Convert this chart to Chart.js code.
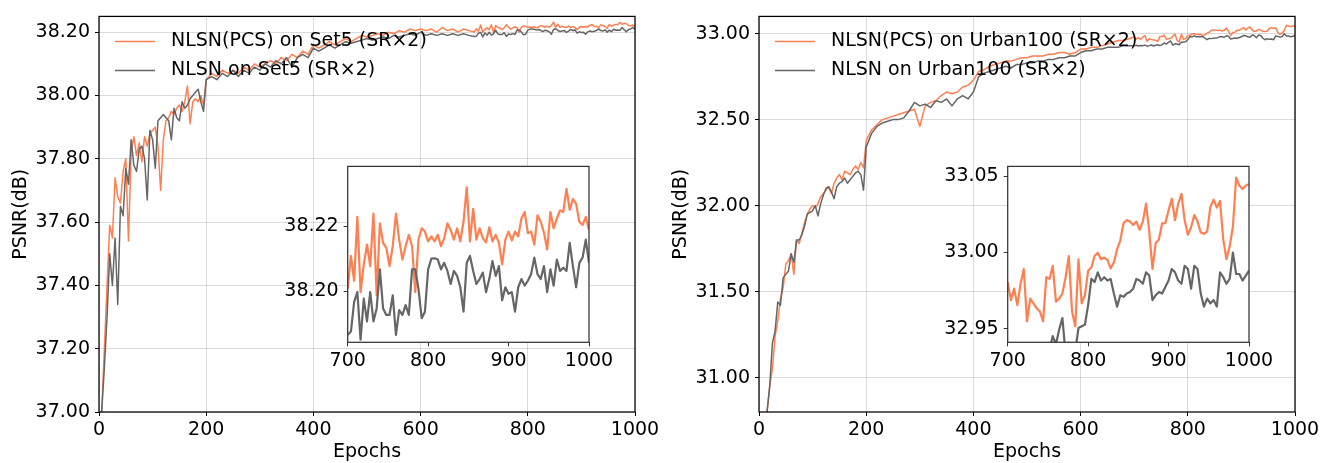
<!DOCTYPE html>
<html>
<head>
<meta charset="utf-8">
<script src="https://cdn.jsdelivr.net/npm/chart.js@4.4.1/dist/chart.umd.min.js"></script>
<style>
  html, body { margin: 0; padding: 0; background: #fff; }
  #wrap { position: relative; width: 1322px; height: 463px; overflow: hidden; }
  canvas { position: absolute; }
</style>
</head>
<body>
<div id="wrap">
  <canvas id="mainSet5" width="670" height="463" style="left:0;top:0"></canvas>
  <canvas id="mainUrban" width="672" height="463" style="left:660px;top:0"></canvas>
  <canvas id="insetSet5" width="350" height="230" style="left:270px;top:150px"></canvas>
  <canvas id="insetUrban" width="350" height="230" style="left:930px;top:150px"></canvas>
</div>
<script>
'use strict';

// ── Datos ─────────────────────────────────────────────────────
const mainEpochs = [0, 5, 10, 15, 20, 25, 30, 35, 40, 45, 50, 55, 60, 65, 70, 75, 80, 85, 90, 95,
    100, 105, 110, 115, 120, 125, 130, 135, 140, 145, 150, 155, 160, 165, 170, 175, 180, 185, 190, 195, 200,
    210, 220, 230, 240, 250, 260, 270, 280, 290, 300, 310, 320, 330, 340, 350, 360, 370, 380, 390,
    400, 410, 420, 430, 440, 450, 460, 470, 480, 490, 500, 510, 520, 530, 540, 550, 560, 570, 580, 590,
    600, 610, 620, 630, 640, 650, 660, 670, 680, 690];

const insetEpochs = [700, 704, 708, 712, 716, 720, 724, 728, 732, 736, 740, 744, 748, 752, 756, 760, 764, 768, 772, 776,
    780, 784, 788, 792, 796, 800, 804, 808, 812, 816, 820, 824, 828, 832, 836, 840, 844, 848, 852, 856,
    860, 864, 868, 872, 876, 880, 884, 888, 892, 896, 900, 904, 908, 912, 916, 920, 924, 928, 932, 936,
    940, 944, 948, 952, 956, 960, 964, 968, 972, 976, 980, 984, 988, 992, 996, 1000];

// Set5 (SR×2) — epochs 0..690
const set5PcsMain = [36.60, 37.00, 37.20, 37.40, 37.59, 37.55, 37.74, 37.68, 37.66, 37.76, 37.80, 37.54, 37.82, 37.87, 37.81,
    37.85, 37.79, 37.87, 37.84, 37.88, 37.89, 37.90, 37.84, 37.70, 37.86, 37.92, 37.93, 37.95, 37.94, 37.96,
    37.97, 37.95, 37.98, 38.03, 37.91, 37.98, 37.99, 37.98, 38.00, 37.97, 38.05,
    38.07, 38.06, 38.08, 38.07, 38.08, 38.07, 38.09, 38.08, 38.10, 38.09, 38.10, 38.11, 38.10, 38.12, 38.11,
    38.13, 38.12, 38.14, 38.13, 38.16, 38.15, 38.16, 38.17, 38.16, 38.17, 38.18, 38.17, 38.18, 38.19, 38.185,
    38.19, 38.195, 38.19, 38.20, 38.195, 38.205, 38.20, 38.21, 38.205, 38.21, 38.205, 38.21, 38.20, 38.215,
    38.205, 38.21, 38.20, 38.21, 38.205];
const set5BaseMain = [36.60, 37.00, 37.14, 37.30, 37.50, 37.40, 37.55, 37.34, 37.65, 37.62, 37.77, 37.72, 37.86, 37.78, 37.76,
    37.83, 37.84, 37.80, 37.67, 37.89, 37.86, 37.77, 37.92, 37.93, 37.94, 37.93, 37.92, 37.86, 37.96, 37.93,
    37.92, 37.98, 37.96, 37.97, 37.99, 38.00, 38.01, 38.02, 37.98, 37.95, 38.05,
    38.06, 38.05, 38.07, 38.06, 38.08, 38.06, 38.08, 38.07, 38.09, 38.08, 38.10, 38.09, 38.11, 38.10, 38.12,
    38.09, 38.12, 38.13, 38.12, 38.15, 38.14, 38.15, 38.16, 38.15, 38.16, 38.17, 38.165, 38.17, 38.175, 38.18,
    38.175, 38.18, 38.185, 38.18, 38.19, 38.185, 38.19, 38.195, 38.19, 38.20, 38.19, 38.195, 38.19, 38.195,
    38.19, 38.195, 38.19, 38.195, 38.19];

// Set5 (SR×2) — epochs 700..1000 (zoom)
const set5PcsInset = [38.2007, 38.2108, 38.2032, 38.2228, 38.1997, 38.2082, 38.2143, 38.2077, 38.2238, 38.1987,
    38.2208, 38.2148, 38.2133, 38.2077, 38.2138, 38.2238, 38.2158, 38.2097, 38.2138, 38.2173,
    38.2138, 38.1997, 38.2158, 38.2193, 38.2183, 38.2153, 38.2168, 38.2153, 38.2173, 38.2138,
    38.2163, 38.2208, 38.2188, 38.2158, 38.2193, 38.2153, 38.2213, 38.2319, 38.2153, 38.2253,
    38.2158, 38.2193, 38.2163, 38.2150, 38.2196, 38.2153, 38.2173, 38.2148, 38.2082, 38.2158,
    38.2183, 38.2156, 38.2183, 38.2168, 38.2223, 38.2243, 38.2178, 38.2183, 38.2143, 38.2233,
    38.2213, 38.2180, 38.2128, 38.2243, 38.2193, 38.2223, 38.2248, 38.2243, 38.2314, 38.2250,
    38.2283, 38.2268, 38.2213, 38.2203, 38.2228, 38.2188];
const set5BaseInset = [38.1866, 38.1876, 38.1967, 38.1997, 38.1851, 38.1977, 38.1907, 38.1997, 38.1907, 38.1947,
    38.2067, 38.1947, 38.1927, 38.1927, 38.1987, 38.1866, 38.1942, 38.1927, 38.1957, 38.1927,
    38.2067, 38.2067, 38.2007, 38.1917, 38.1937, 38.2067, 38.2100, 38.2101, 38.2097, 38.2067,
    38.2087, 38.2062, 38.2022, 38.2062, 38.2047, 38.2012, 38.1937, 38.2087, 38.2108, 38.2062,
    38.2022, 38.2037, 38.2057, 38.1997, 38.2037, 38.2092, 38.2047, 38.2077, 38.1972, 38.2012,
    38.1992, 38.1997, 38.1937, 38.2012, 38.2037, 38.2017, 38.2032, 38.2052, 38.2103, 38.2052,
    38.2037, 38.2077, 38.1997, 38.2067, 38.2017, 38.2097, 38.2062, 38.2072, 38.2062, 38.2148,
    38.2077, 38.2012, 38.2087, 38.2103, 38.2158, 38.2087];

// Urban100 (SR×2) — epochs 0..690
const urbanPcsMain = [30.20, 30.45, 30.65, 30.80, 30.95, 31.05, 31.24, 31.33, 31.46, 31.52, 31.66, 31.68, 31.72, 31.60, 31.80,
    31.78, 31.84, 31.90, 31.95, 31.98, 32.00, 31.99, 32.01, 32.05, 32.07, 32.09, 32.11, 32.07, 32.13, 32.16,
    32.18, 32.15, 32.20, 32.19, 32.18, 32.21, 32.23, 32.21, 32.25, 32.22, 32.38,
    32.44, 32.47, 32.50, 32.51, 32.52, 32.53, 32.54, 32.55, 32.56, 32.46, 32.58, 32.60, 32.61, 32.64, 32.66,
    32.65, 32.66, 32.69, 32.70, 32.73, 32.78, 32.79, 32.81, 32.82, 32.83, 32.84, 32.84, 32.85, 32.86, 32.86,
    32.87, 32.87, 32.87, 32.88, 32.88, 32.89, 32.89, 32.88, 32.89, 32.91, 32.91, 32.92, 32.92, 32.93,
    32.94, 32.95, 32.96, 32.96, 32.97];
const urbanBaseMain = [30.20, 30.45, 30.65, 30.80, 30.95, 31.20, 31.27, 31.44, 31.42, 31.58, 31.60, 31.62, 31.72, 31.67, 31.80,
    31.80, 31.83, 31.88, 31.95, 31.96, 31.97, 32.00, 31.94, 32.01, 32.06, 32.10, 32.11, 32.08, 32.04, 32.11,
    32.13, 32.14, 32.16, 32.13, 32.15, 32.17, 32.19, 32.20, 32.18, 32.09, 32.34,
    32.42, 32.46, 32.48, 32.49, 32.50, 32.50, 32.51, 32.55, 32.60, 32.58, 32.59, 32.57, 32.61, 32.60, 32.62,
    32.58, 32.62, 32.64, 32.62, 32.66, 32.75, 32.77, 32.78, 32.79, 32.80, 32.81, 32.80, 32.82, 32.82, 32.83,
    32.83, 32.84, 32.84, 32.85, 32.85, 32.86, 32.86, 32.87, 32.87, 32.89, 32.90, 32.90, 32.91, 32.91,
    32.92, 32.92, 32.92, 32.93, 32.93];

// Urban100 (SR×2) — epochs 700..1000 (zoom)
const urbanPcsInset = [32.9805, 32.9687, 32.9762, 32.9654, 32.9794, 32.9891, 32.9547, 32.9697, 32.9665, 32.9633,
    32.9612, 32.9547, 32.9837, 32.9826, 32.9912, 32.9676, 32.9697, 32.9730, 32.9837, 32.9976,
    32.9612, 32.9515, 32.9955, 32.9665, 32.9719, 32.9880, 32.9901, 32.9976, 32.9998, 32.9955,
    32.9966, 32.9951, 32.9895, 32.9933, 33.0019, 33.0079, 33.0191, 33.0212, 33.0202, 33.0180,
    33.0202, 33.0148, 33.0202, 33.0320, 33.0137, 32.9891, 33.0062, 33.0084, 33.0191, 33.0191,
    33.0277, 33.0352, 33.0212, 33.0320, 33.0384, 33.0212, 33.0116, 33.0165, 33.0245, 33.0202,
    33.0131, 33.0122, 33.0137, 33.0298, 33.0346, 33.0294, 33.0337, 33.0084, 32.9955, 33.0041,
    33.0170, 33.0491, 33.0438, 33.0416, 33.0438, 33.0449];
const urbanBaseInset = [32.930, 32.932, 32.928, 32.931, 32.929, 32.933, 32.927, 32.930, 32.934, 32.928,
    32.932, 32.935, 32.930, 32.936, 32.9451, 32.9397, 32.9494, 32.9569, 32.9333, 32.9408,
    32.9397, 32.9354, 32.9504, 32.9515, 32.9526, 32.9654, 32.9826, 32.9805, 32.9869, 32.9815,
    32.9837, 32.9815, 32.9826, 32.9730, 32.9644, 32.9719, 32.9708, 32.9730, 32.9740, 32.9762,
    32.9826, 32.9815, 32.9794, 32.9869, 32.9848, 32.9687, 32.9719, 32.9740, 32.9730, 32.9773,
    32.9815, 32.9891, 32.9869, 32.9815, 32.9794, 32.9912, 32.9891, 32.9762, 32.9912, 32.9891,
    32.9730, 32.9644, 32.9697, 32.9665, 32.9687, 32.9644, 32.9869, 32.9837, 32.9794, 32.9826,
    32.9998, 32.9858, 32.9858, 32.9815, 32.9848, 32.9880];

const xTicksMain = [0, 200, 400, 600, 800, 1000];
const xTicksInset = [700, 800, 900, 1000];
const yTicksSet5 = [37.00, 37.20, 37.40, 37.60, 37.80, 38.00, 38.20];
const yTicksUrban = [31.00, 31.50, 32.00, 32.50, 33.00];
const yTicksSet5Inset = [38.20, 38.22];
const yTicksUrbanInset = [32.95, 33.00, 33.05];

const namesSet5 = ['NLSN(PCS) on Set5 (SR×2)', 'NLSN on Set5 (SR×2)'];
const namesUrban = ['NLSN(PCS) on Urban100 (SR×2)', 'NLSN on Urban100 (SR×2)'];

const NARANJA = '#FF7F50';
const GRIS = '#666666';
const TAM_FUENTE = 19;

Chart.defaults.font.family = '"DejaVu Sans", sans-serif';
Chart.defaults.font.size = TAM_FUENTE;
Chart.defaults.color = '#000';

// ── Plugins ───────────────────────────────────────────────────
const marcoPlugin = {
    id: 'marco',
    beforeDraw(chart, args, opts) {
        if (!opts.fondo) return;
        const a = chart.chartArea;
        chart.ctx.save();
        chart.ctx.fillStyle = '#fff';
        chart.ctx.fillRect(a.left, a.top, a.right - a.left, a.bottom - a.top);
        chart.ctx.restore();
    },
    afterDatasetsDraw(chart, args, opts) {
        const a = chart.chartArea;
        const ctx = chart.ctx;
        ctx.save();
        ctx.strokeStyle = opts.color || '#000';
        ctx.lineWidth = opts.width || 1.25;
        ctx.strokeRect(a.left, a.top, a.right - a.left, a.bottom - a.top);
        ctx.restore();
    }
};

// Leyenda sin marco dentro del área del gráfico
const leyendaPlugin = {
    id: 'leyendaInterna',
    afterDatasetsDraw(chart, args, opts) {
        if (!opts.mostrar) return;
        const a = chart.chartArea;
        const ctx = chart.ctx;
        ctx.save();
        ctx.font = TAM_FUENTE + 'px "DejaVu Sans"';
        ctx.textBaseline = 'middle';
        chart.data.datasets.forEach((ds, i) => {
            const y = a.top + 25 + i * 29;
            ctx.strokeStyle = ds.borderColor;
            ctx.lineWidth = 1.5;
            ctx.beginPath();
            ctx.moveTo(a.left + 16, y);
            ctx.lineTo(a.left + 56, y);
            ctx.stroke();
            ctx.fillStyle = '#000';
            ctx.fillText(ds.label, a.left + 72, y);
        });
        ctx.restore();
    }
};

function puntos(xs, ys) {
    return xs.map((x, i) => ({ x: x, y: ys[i] }));
}

function fijarTicks(valores) {
    return scale => { scale.ticks = valores.map(v => ({ value: v })); };
}

function crearGrafica(id, cfg) {
    const canvas = document.getElementById(id);
    const W = canvas.width;
    return new Chart(canvas, {
        type: 'line',
        data: {
            datasets: [
                { label: cfg.nombres[0], data: puntos(cfg.epochs, cfg.pcs), borderColor: NARANJA, borderWidth: cfg.grosor, order: 1 },
                { label: cfg.nombres[1], data: puntos(cfg.epochs, cfg.base), borderColor: GRIS, borderWidth: cfg.grosor, order: 0 }
            ]
        },
        options: {
            responsive: false,
            animation: false,
            devicePixelRatio: 1,
            events: [],
            layout: { padding: { left: 0, top: cfg.area.top, right: W - cfg.area.right, bottom: 0 } },
            elements: { point: { radius: 0 }, line: { tension: 0, borderJoinStyle: 'round' } },
            plugins: {
                legend: { display: false },
                tooltip: { enabled: false },
                marco: { color: cfg.marco, width: 1.25, fondo: cfg.inset },
                leyendaInterna: { mostrar: !cfg.inset }
            },
            scales: {
                x: {
                    type: 'linear',
                    min: cfg.xMin, max: 1000,
                    afterBuildTicks: fijarTicks(cfg.xTicks),
                    afterFit: s => { s.height = cfg.altoX; },
                    border: { display: false },
                    grid: {
                        drawOnChartArea: !cfg.inset,
                        color: 'rgba(0,0,0,0.14)',
                        tickColor: cfg.marco,
                        tickLength: 4
                    },
                    ticks: { maxRotation: 0, padding: 3, callback: v => String(v) },
                    title: { display: !cfg.inset, text: 'Epochs', padding: { top: 0, bottom: 0 } }
                },
                y: {
                    min: cfg.yMin, max: cfg.yMax,
                    afterBuildTicks: fijarTicks(cfg.yTicks),
                    afterFit: s => { s.width = cfg.area.left; },
                    border: { display: false },
                    grid: {
                        drawOnChartArea: !cfg.inset,
                        color: 'rgba(0,0,0,0.14)',
                        tickColor: cfg.marco,
                        tickLength: 4
                    },
                    ticks: { padding: 5, callback: v => v.toFixed(2) },
                    title: { display: !cfg.inset, text: 'PSNR(dB)', padding: { top: 10, bottom: 0 } }
                }
            }
        },
        plugins: [marcoPlugin, leyendaPlugin]
    });
}

const todasEpochs = mainEpochs.concat(insetEpochs);

crearGrafica('mainSet5', {
    epochs: todasEpochs,
    pcs: set5PcsMain.concat(set5PcsInset),
    base: set5BaseMain.concat(set5BaseInset),
    nombres: namesSet5,
    grosor: 1.5, inset: false, marco: '#000',
    area: { left: 99, top: 13, right: 635 }, altoX: 51,
    xMin: 0, xTicks: xTicksMain,
    yMin: 37.00, yMax: 38.25, yTicks: yTicksSet5
});

crearGrafica('mainUrban', {
    epochs: todasEpochs,
    pcs: urbanPcsMain.concat(urbanPcsInset),
    base: urbanBaseMain.concat(urbanBaseInset),
    nombres: namesUrban,
    grosor: 1.5, inset: false, marco: '#000',
    area: { left: 99, top: 13, right: 635 }, altoX: 51,
    xMin: 0, xTicks: xTicksMain,
    yMin: 30.80, yMax: 33.10, yTicks: yTicksUrban
});

crearGrafica('insetSet5', {
    epochs: insetEpochs,
    pcs: set5PcsInset,
    base: set5BaseInset,
    nombres: namesSet5,
    grosor: 2.2, inset: true, marco: '#333',
    area: { left: 77.7, top: 13.3, right: 319 }, altoX: 37.7,
    xMin: 700, xTicks: xTicksInset,
    yMin: 38.1843, yMax: 38.2383, yTicks: yTicksSet5Inset
});

crearGrafica('insetUrban', {
    epochs: insetEpochs,
    pcs: urbanPcsInset,
    base: urbanBaseInset,
    nombres: namesUrban,
    grosor: 2.2, inset: true, marco: '#333',
    area: { left: 77.7, top: 13.3, right: 319 }, altoX: 37.7,
    xMin: 700, xTicks: xTicksInset,
    yMin: 32.941, yMax: 33.0564, yTicks: yTicksUrbanInset
});
</script>
</body>
</html>
